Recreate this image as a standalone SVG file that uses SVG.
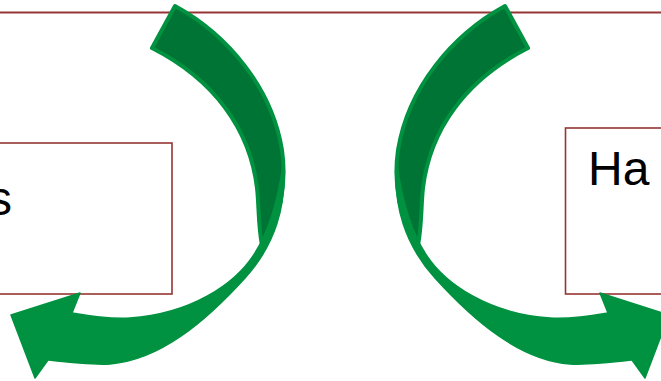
<svg xmlns="http://www.w3.org/2000/svg" width="661" height="381" viewBox="0 0 661 381">
<style>
.box{fill:#ffffff;stroke:#943634;stroke-width:1.6}
.line{stroke:#943634;stroke-width:2;fill:none}
.lbl{font-family:"Liberation Sans",Arial,sans-serif;font-size:48px;fill:#000000}
.back{fill:#007434;stroke:#009240;stroke-width:4;stroke-linejoin:round}
.front{fill:#009240;stroke:#009240;stroke-width:1.5;stroke-linejoin:round}
</style>
<rect width="661" height="381" fill="#ffffff"/>
<g id="connectors">
<line class="line" x1="0" y1="12.5" x2="661" y2="12.5"/>
</g>
<g id="node-left">
<rect class="box" x="-20" y="143" width="192" height="151"/>
<text class="lbl" x="12" y="215" text-anchor="end">s</text>
</g>
<g id="node-right">
<rect class="box" x="565.5" y="128" width="120" height="166"/>
<text class="lbl" x="588" y="185">Ha</text>
</g>
<g id="arrow-left">
<path class="back" d="M152,48 L175,6 C228,35 272,88 282,150 C287,185 280,220 262,245 C258,225 259,205 257,188 C250,130 215,80 152,48 Z"/>
<path class="front" d="M283,165 C287,205 275,245 245,278 C205,322 160,360 110,364 C90,365 65,362 48,360 L35,378 L11,315 L80,293 L72,313 C95,317 115,319 130,318 C190,314 235,285 255,253 C268,232 278,200 283,165 Z"/>
</g>
<g id="arrow-right" transform="translate(680,0) scale(-1,1)">
<path class="back" d="M152,48 L175,6 C228,35 272,88 282,150 C287,185 280,220 262,245 C258,225 259,205 257,188 C250,130 215,80 152,48 Z"/>
<path class="front" d="M283,165 C287,205 275,245 245,278 C205,322 160,360 110,364 C90,365 65,362 48,360 L35,378 L11,315 L80,293 L72,313 C95,317 115,319 130,318 C190,314 235,285 255,253 C268,232 278,200 283,165 Z"/>
</g>
</svg>
